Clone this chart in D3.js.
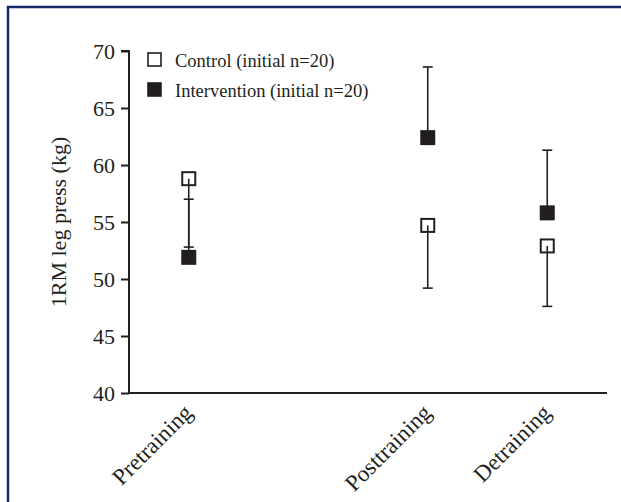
<!DOCTYPE html>
<html>
<head>
<meta charset="utf-8">
<script src="https://cdn.jsdelivr.net/npm/d3@7"></script>
<style>
  body { margin: 0; background: #fff; }
  svg text { font-family: "Liberation Serif", "Times New Roman", serif; fill: #231f20; }
</style>
</head>
<body>
<svg id="chart" width="621" height="502"></svg>
<script>
// Categories and per-group values (mean, one-sided error bar end)
const phases = ['Pretraining', 'Posttraining', 'Detraining'];
const phasePos = [0.125, 0.625, 0.875];           // relative x along axis
const controlMean = [58.8, 54.7, 52.9];
const controlLow  = [52.8, 49.2, 47.6];
const interventionMean = [51.9, 62.4, 55.8];
const interventionHigh = [57.0, 68.6, 61.3];
const yTicks = [40, 45, 50, 55, 60, 65, 70];
const legendLabels = ['Control (initial n=20)', 'Intervention (initial n=20)'];

const svg = d3.select('#chart');
const ink = '#231f20';
const serif = '"Liberation Serif", "Times New Roman", serif';

// frame
svg.append('path')
  .attr('d', 'M8,502 V7 H621')
  .attr('fill', 'none')
  .attr('stroke', '#14286e')
  .attr('stroke-width', 2.5);

const margin = { left: 129, right: 14, top: 51, bottom: 109 };
const W = 621, H = 502;

const y = d3.scaleLinear().domain([40, 70]).range([H - margin.bottom, margin.top]);
const x = d3.scaleLinear().domain([0, 1]).range([margin.left, W - margin.right]);

// y axis
const gy = svg.append('g').attr('transform', `translate(${margin.left},0)`)
  .call(d3.axisLeft(y).tickValues(yTicks).tickSize(8).tickPadding(6).tickFormat(d3.format('d')));
gy.attr('font-family', serif);
gy.select('.domain').attr('stroke', ink).attr('stroke-width', 2)
  .attr('d', `M-8,${y(70)}H0V${y(40)}`);
gy.selectAll('.tick line').attr('stroke', ink).attr('stroke-width', 2);
gy.selectAll('.tick text').style('font-size', '22px').attr('fill', ink);

// x axis line
svg.append('line')
  .attr('x1', margin.left).attr('x2', W - margin.right)
  .attr('y1', y(40)).attr('y2', y(40))
  .attr('stroke', ink).attr('stroke-width', 2);

// x labels rotated
svg.append('g').selectAll('text').data(phases).join('text')
  .attr('transform', (d, i) => `translate(${x(phasePos[i]) + 5},${y(40) + 21}) rotate(-45)`)
  .attr('text-anchor', 'end')
  .style('font-size', '23px')
  .text(d => d);

// y title
svg.append('text')
  .attr('transform', `translate(66,${(y(40) + y(70)) / 2}) rotate(-90)`)
  .attr('text-anchor', 'middle')
  .style('font-size', '22px')
  .text('1RM leg press (kg)');

// error bars
const capW = 10;
function errBar(mean, end) {
  const g = svg.append('g');
  phases.forEach((p, i) => {
    const cx = x(phasePos[i]);
    g.append('line').attr('x1', cx).attr('x2', cx)
      .attr('y1', y(mean[i])).attr('y2', y(end[i]))
      .attr('stroke', ink).attr('stroke-width', 1.6);
    g.append('line').attr('x1', cx - capW / 2).attr('x2', cx + capW / 2)
      .attr('y1', y(end[i])).attr('y2', y(end[i]))
      .attr('stroke', ink).attr('stroke-width', 1.6);
  });
}
errBar(controlMean, controlLow);
errBar(interventionMean, interventionHigh);

// markers
const sq = 13;
function markers(mean, filled) {
  svg.append('g').selectAll('rect').data(mean).join('rect')
    .attr('x', (d, i) => x(phasePos[i]) - sq / 2)
    .attr('y', d => y(d) - sq / 2)
    .attr('width', sq).attr('height', sq)
    .attr('fill', filled ? ink : '#fff')
    .attr('fill-opacity', filled ? 1 : 0)
    .attr('stroke', ink).attr('stroke-width', 2);
}
markers(controlMean, false);
markers(interventionMean, true);

// legend
const lg = svg.append('g').attr('transform', 'translate(148,53)');
legendLabels.forEach((lab, i) => {
  const row = lg.append('g').attr('transform', `translate(0,${i * 30})`);
  row.append('rect').attr('x', 0).attr('y', 0).attr('width', 13).attr('height', 13)
    .attr('fill', i === 1 ? ink : '#fff').attr('stroke', ink).attr('stroke-width', 1.6);
  row.append('text').attr('x', 27).attr('y', 14).style('font-size', '18.5px').text(lab);
});
</script>
</body>
</html>
